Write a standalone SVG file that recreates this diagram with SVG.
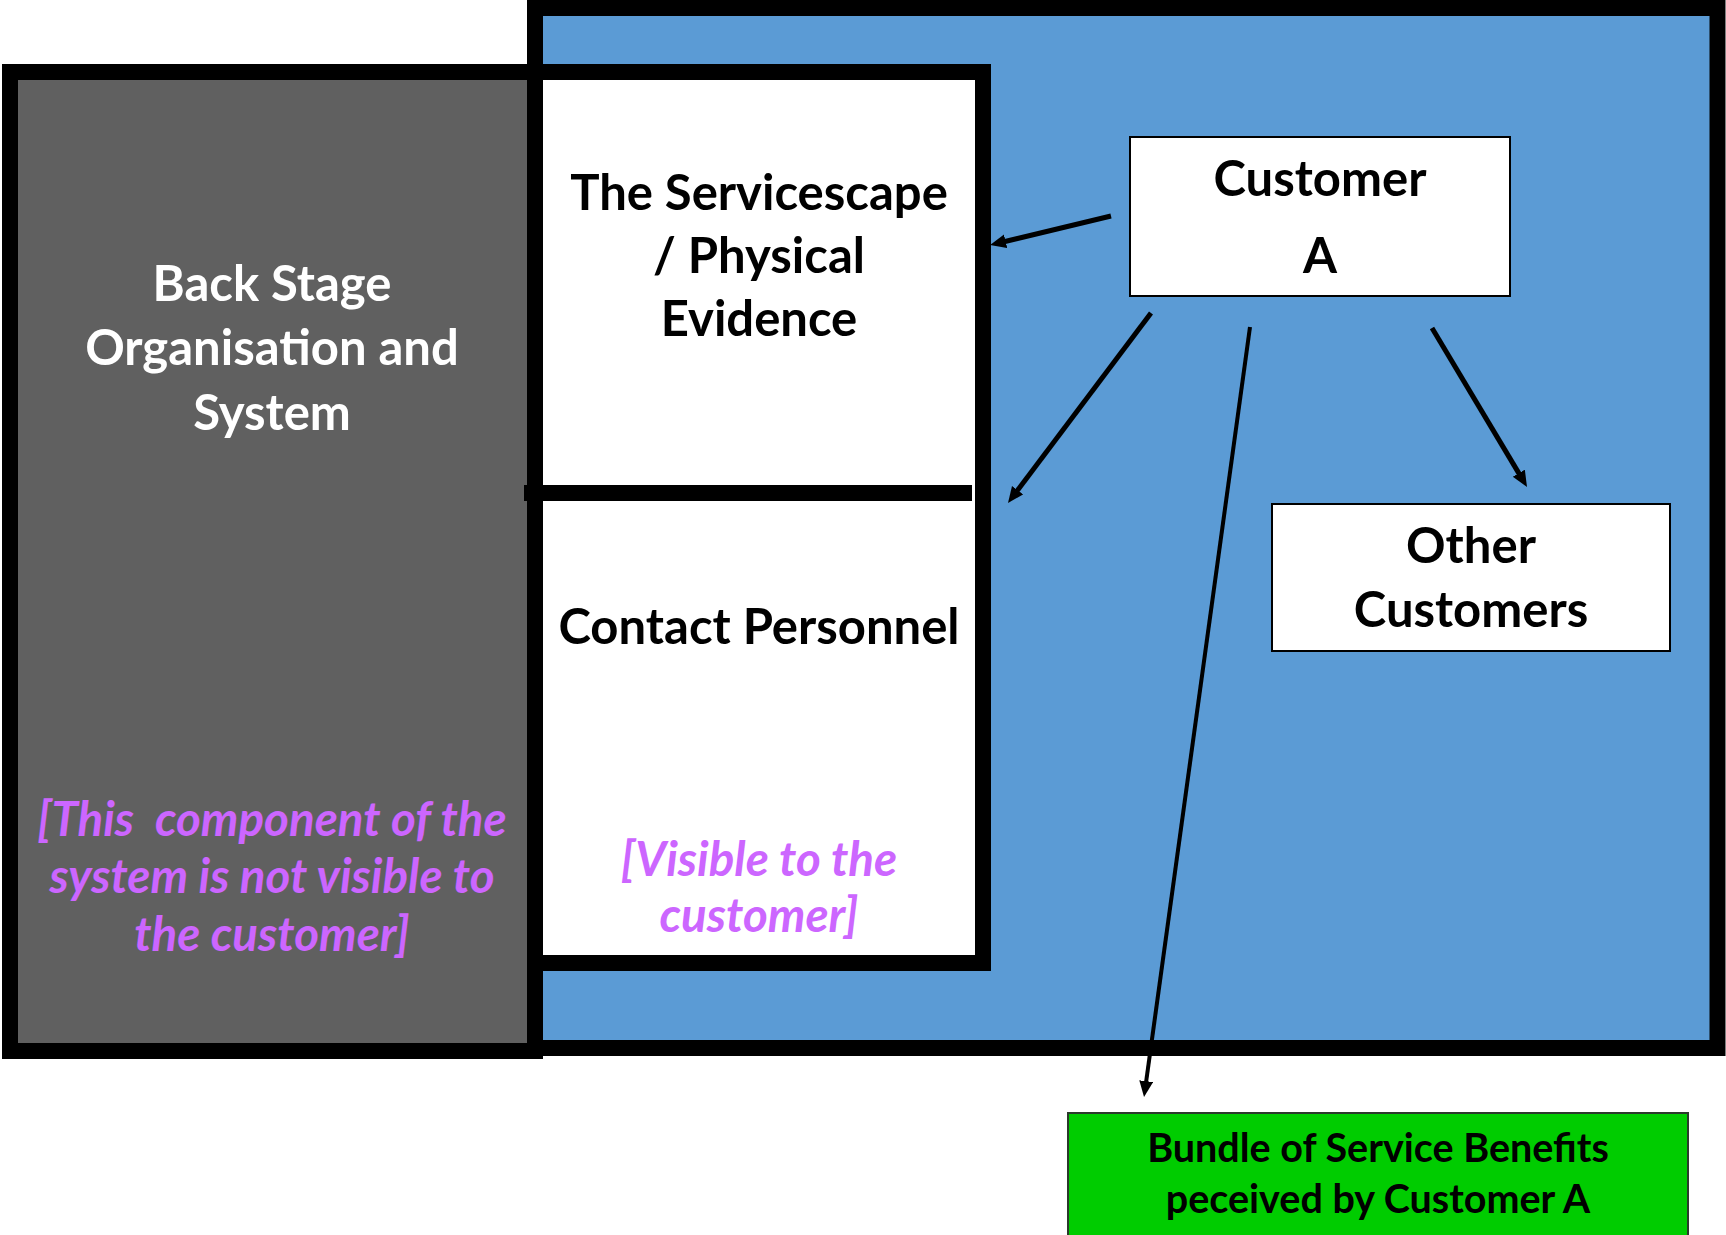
<svg xmlns="http://www.w3.org/2000/svg" width="1726" height="1235" viewBox="0 0 1726 1235">
  <style>
    .lbl { font-family: Lato, "Open Sans", "Liberation Sans", sans-serif; font-weight: 700; text-anchor: middle; }
    .big { font-size: 49px; }
    .note { font-size: 47.5px; font-style: italic; fill: #CC66FF; }
    .small { font-size: 39.5px; }
    .thick { stroke: #000; stroke-width: 16; }
    .thin { stroke: #000; stroke-width: 2; }
    .conn { stroke: #000; fill: none; marker-end: url(#ah); }
  </style>
  <defs>
    <marker id="ah" markerUnits="userSpaceOnUse" markerWidth="18" markerHeight="16" refX="6" refY="7" orient="auto">
      <path d="M0,0 L16,7 L0,14 z" fill="#000"/>
    </marker>
  </defs>

  <rect width="1726" height="1235" fill="#fff"/>

  <!-- customer-facing area -->
  <g id="front-stage">
    <rect class="thick" x="535" y="8" width="1182.5" height="1040" fill="#5B9BD5"/>
  </g>

  <!-- back stage -->
  <g id="back-stage">
    <rect class="thick" x="10" y="72" width="525" height="979" fill="#606060"/>
    <text class="lbl big" x="272" y="301" fill="#fff">Back Stage</text>
    <text class="lbl big" x="272" y="365" fill="#fff">Organisation and</text>
    <text class="lbl big" x="272" y="430" fill="#fff">System</text>
    <text class="lbl note" x="272" y="836" xml:space="preserve">[This  component of the</text>
    <text class="lbl note" x="272" y="893">system is not visible to</text>
    <text class="lbl note" x="272" y="951">the customer]</text>
  </g>

  <!-- visible part: servicescape and contact personnel -->
  <g id="servicescape">
    <rect class="thick" x="535" y="72" width="448" height="891" fill="#fff"/>
    <text class="lbl big" x="759" y="210">The Servicescape</text>
    <text class="lbl big" x="759" y="273">/ Physical</text>
    <text class="lbl big" x="759" y="336">Evidence</text>
  </g>
  <g id="contact-personnel">
    <rect x="524" y="485" width="448" height="16" fill="#000"/>
    <text class="lbl big" x="759" y="644">Contact Personnel</text>
    <text class="lbl note" x="759" y="876">[Visible to the</text>
    <text class="lbl note" x="759" y="932">customer]</text>
  </g>

  <g id="customer-a">
    <rect class="thin" x="1130" y="137" width="380" height="159" fill="#fff"/>
    <text class="lbl big" x="1320" y="196">Customer</text>
    <text class="lbl big" x="1320" y="273">A</text>
  </g>

  <g id="other-customers">
    <rect class="thin" x="1272" y="504" width="398" height="147" fill="#fff"/>
    <text class="lbl big" x="1471" y="563">Other</text>
    <text class="lbl big" x="1471" y="627">Customers</text>
  </g>

  <g id="benefits">
    <rect x="1068" y="1113" width="620" height="140" fill="#00CC00" stroke="#2b3a2b" stroke-width="2"/>
    <text class="lbl small" x="1378" y="1162">Bundle of Service Benefits</text>
    <text class="lbl small" x="1378" y="1213">peceived by Customer A</text>
  </g>

  <!-- connectors from Customer A -->
  <g id="connectors">
    <line class="conn" x1="1111" y1="216" x2="999.8" y2="242.7" stroke-width="5"/>
    <line class="conn" x1="1151" y1="313" x2="1014" y2="495" stroke-width="5"/>
    <line class="conn" x1="1432" y1="328" x2="1521.9" y2="478.4" stroke-width="5"/>
    <line class="conn" x1="1250" y1="327" x2="1145.4" y2="1087.1" stroke-width="4"/>
  </g>
</svg>
